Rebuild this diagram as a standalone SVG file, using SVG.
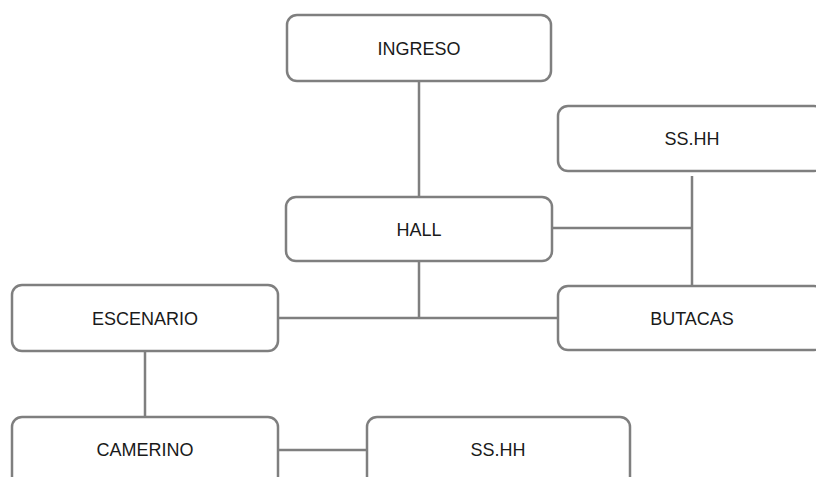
<svg xmlns="http://www.w3.org/2000/svg" width="816" height="477" viewBox="0 0 816 477">
  <style>
    .box { fill: #ffffff; stroke: #7f7f7f; stroke-width: 2.5; }
    .link { fill: none; stroke: #7f7f7f; stroke-width: 2.5; }
    .label { font-family: "Liberation Sans", Arial, sans-serif; font-size: 18px; fill: #1a1a1a; text-anchor: middle; }
  </style>
  <rect width="816" height="477" fill="#ffffff"/>

  <!-- connectors -->
  <g id="connectors">
    <line class="link" x1="419" y1="82" x2="419" y2="197"/>
    <line class="link" x1="419" y1="261" x2="419" y2="318"/>
    <line class="link" x1="278" y1="318" x2="558" y2="318"/>
    <line class="link" x1="552" y1="228" x2="692" y2="228"/>
    <line class="link" x1="692" y1="176" x2="692" y2="287"/>
    <line class="link" x1="145" y1="351" x2="145" y2="417"/>
    <line class="link" x1="278" y1="450" x2="367" y2="450"/>
  </g>

  <g id="ingreso">
    <rect class="box" x="287" y="15" width="264" height="66" rx="10"/>
    <text class="label" x="419" y="55">INGRESO</text>
  </g>
  <g id="hall">
    <rect class="box" x="286" y="197" width="266" height="64" rx="10"/>
    <text class="label" x="419" y="236">HALL</text>
  </g>
  <g id="sshh-top">
    <rect class="box" x="558" y="106" width="266" height="65" rx="10"/>
    <text class="label" x="692" y="145">SS.HH</text>
  </g>
  <g id="butacas">
    <rect class="box" x="558" y="286" width="266" height="64" rx="10"/>
    <text class="label" x="692" y="325">BUTACAS</text>
  </g>
  <g id="escenario">
    <rect class="box" x="12" y="285" width="266" height="66" rx="10"/>
    <text class="label" x="145" y="325">ESCENARIO</text>
  </g>
  <g id="camerino">
    <rect class="box" x="12" y="417" width="266" height="70" rx="10"/>
    <text class="label" x="145" y="456">CAMERINO</text>
  </g>
  <g id="sshh-bottom">
    <rect class="box" x="367" y="417" width="263" height="70" rx="10"/>
    <text class="label" x="498" y="456">SS.HH</text>
  </g>
</svg>
